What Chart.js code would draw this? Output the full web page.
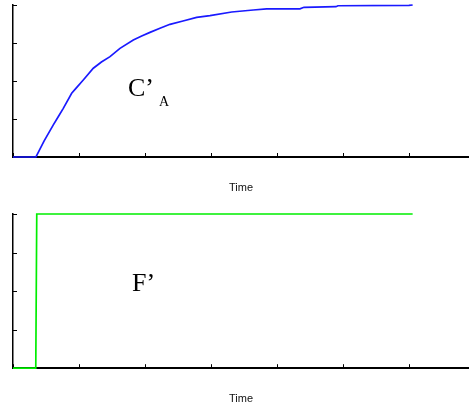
<!DOCTYPE html>
<html>
<head>
<meta charset="utf-8">
<script src="https://cdn.jsdelivr.net/npm/chart.js@4/dist/chart.umd.min.js"></script>
<style>
  html, body { margin: 0; padding: 0; background: #fff; }
  #wrap { position: relative; width: 469px; height: 408px; overflow: hidden; }
  canvas { position: absolute; left: 0; }
  #topPanel { top: 0; }
  #bottomPanel { top: 200px; }
</style>
</head>
<body>
<div id="wrap">
  <canvas id="topPanel" width="469" height="200"></canvas>
  <canvas id="bottomPanel" width="469" height="208"></canvas>
</div>
<script>
// Tick positions (no tick labels are shown)
const timeTicks  = [0, 1, 2, 3, 4, 5, 6];
const levelTicks = [0, 0.25, 0.5, 0.75, 1];
const timeMax = 6.91;

// Concentration deviation C'A after the feed step
const caTime  = [0, 0.348, 0.470, 0.611, 0.690, 0.762, 0.889, 0.950, 1.065, 1.217,
                 1.340, 1.470, 1.621, 1.823, 1.950, 2.076, 2.227, 2.379, 2.576,
                 2.783, 2.985, 3.314, 3.641, 3.844, 4.348, 4.409, 4.894, 4.924,
                 6.0, 6.056];
const caValue = [0, 0, 0.105, 0.211, 0.268, 0.320, 0.419, 0.450, 0.507, 0.584,
                 0.625, 0.660, 0.715, 0.770, 0.796, 0.820, 0.847, 0.873, 0.895,
                 0.919, 0.930, 0.954, 0.967, 0.974, 0.975, 0.985, 0.989, 0.995,
                 0.997, 1.0];

// Feed flow deviation F' (step input)
const fTime  = [0, 0.345, 0.36, 6.056];
const fValue = [0, 0, 1, 1];

// Short inward tick marks on both axes, drawn beneath the data lines
const innerTicks = {
  id: 'innerTicks',
  beforeDatasetsDraw(chart) {
    const ctx = chart.ctx;
    const xs = chart.scales.x, ys = chart.scales.y;
    const area = chart.chartArea;
    ctx.save();
    ctx.strokeStyle = '#000';
    ctx.lineWidth = 1;
    ctx.beginPath();
    xs.ticks.forEach(t => {
      const px = Math.round(xs.getPixelForValue(t.value)) + 0.5;
      ctx.moveTo(px, area.bottom);
      ctx.lineTo(px, area.bottom - 4);
    });
    ys.ticks.forEach(t => {
      const py = Math.round(ys.getPixelForValue(t.value)) + 0.5;
      ctx.moveTo(area.left, py);
      ctx.lineTo(area.left + 4, py);
    });
    ctx.stroke();
    ctx.restore();
  }
};

// Serif variable name drawn inside the plot
const panelLabel = {
  id: 'panelLabel',
  afterDraw(chart, args, opts) {
    const ctx = chart.ctx;
    ctx.save();
    ctx.fillStyle = '#000';
    ctx.textBaseline = 'alphabetic';
    ctx.textAlign = 'left';
    ctx.font = '26px "Liberation Serif", "Times New Roman", serif';
    ctx.fillText(opts.main, opts.x, opts.y);
    if (opts.sub) {
      ctx.font = '14px "Liberation Serif", "Times New Roman", serif';
      ctx.fillText(opts.sub, opts.subX, opts.subY);
    }
    ctx.restore();
  }
};

function makePanel(canvasId, times, values, color, label, padding) {
  const points = times.map((t, i) => ({ x: t, y: values[i] }));
  return new Chart(document.getElementById(canvasId), {
    type: 'line',
    data: {
      datasets: [{
        data: points,
        borderColor: color,
        borderWidth: 1.7,
        pointRadius: 0,
        tension: 0,
        fill: false,
        clip: 4
      }]
    },
    options: {
      responsive: false,
      animation: false,
      devicePixelRatio: 1,
      events: [],
      layout: { padding: padding },
      plugins: {
        legend: { display: false },
        tooltip: { enabled: false },
        panelLabel: label
      },
      scales: {
        x: {
          type: 'linear',
          min: 0,
          max: timeMax,
          afterBuildTicks: s => { s.ticks = timeTicks.map(v => ({ value: v })); },
          ticks: { display: false },
          grid: { display: false, drawTicks: false },
          border: { display: true, color: '#000', width: 2 },
          title: {
            display: true,
            text: 'Time',
            color: '#111',
            font: { family: '"Liberation Sans", Arial, sans-serif', size: 11 },
            padding: { top: 24, bottom: 0 }
          }
        },
        y: {
          type: 'linear',
          min: 0,
          max: 1,
          afterBuildTicks: s => { s.ticks = levelTicks.map(v => ({ value: v })); },
          ticks: { display: false },
          grid: { display: false, drawTicks: false },
          border: { display: true, color: '#000', width: 1.5 }
        }
      }
    },
    plugins: [innerTicks, panelLabel]
  });
}

makePanel('topPanel', caTime, caValue, '#1a1aff',
  { main: 'C\u2019', sub: 'A', x: 128, y: 96, subX: 159, subY: 106 },
  { left: 13, top: 5, right: 0, bottom: 5.8 });

makePanel('bottomPanel', fTime, fValue, '#00ee00',
  { main: 'F\u2019', x: 132, y: 91 },
  { left: 13, top: 14, right: 0, bottom: 2.6 });
</script>
</body>
</html>
